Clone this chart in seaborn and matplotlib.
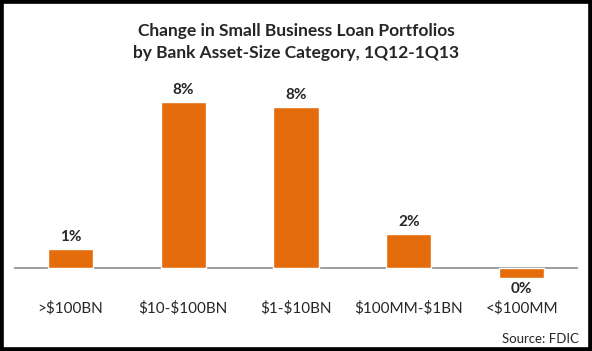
import matplotlib
matplotlib.use("Agg")
import matplotlib.pyplot as plt
from matplotlib.patches import Rectangle
import seaborn as sns
import pandas as pd

categories = ['>$100BN', '$10-$100BN', '$1-$10BN', '$100MM-$1BN', '<$100MM']
changes    = [0.93, 8.0, 7.76, 1.65, -0.45]
labels     = ['1%', '8%', '8%', '2%', '0%']
title      = 'Change in Small Business Loan Portfolios\nby Bank Asset-Size Category, 1Q12-1Q13'
source     = 'Source: FDIC'

sns.set_style("white")
plt.rcParams['font.family'] = ['Lato', 'DejaVu Sans']
plt.rcParams['text.parse_math'] = False

df = pd.DataFrame({'cat': categories, 'chg': changes})

fig = plt.figure(figsize=(5.92, 3.51), dpi=100)
ax = fig.add_axes([14/592, 61/351, 564/592, 220/351])
sns.barplot(ax=ax, data=df, x='cat', y='chg', color='#E46C0A', saturation=1, width=0.4)
ax.set_xlim(-0.5, 4.5)
ax.set_ylim(-1.04, 9.53)
for s in ax.spines.values(): s.set_visible(False)
ax.axhline(0, color='#8C8C8C', lw=1.2, zorder=0)
ax.set_yticks([])
ax.set_xticks([])
ax.set_xlabel(''); ax.set_ylabel('')

for i, (v, lab) in enumerate(zip(changes, labels)):
    if v >= 0:
        ax.annotate(lab, (i, v), xytext=(0, 3.5), textcoords='offset points',
                    ha='center', va='bottom', fontsize=11, fontweight='bold')
    else:
        ax.annotate(lab, (i, v), xytext=(0, -3), textcoords='offset points',
                    ha='center', va='top', fontsize=11, fontweight='bold')
    # category label row, ~40px below the baseline
    ax.annotate(categories[i], (i, 0), xytext=(0, -28.8), textcoords='offset points',
                ha='center', va='center', fontsize=11)

fig.text(0.5, 1 - 42/351, title, ha='center', va='center', fontsize=12.5, fontweight='bold',
         linespacing=1.5)
fig.text(579/592, 1 - 339/351, source, ha='right', va='center', fontsize=9.5)
fig.patches.append(Rectangle((0, 0), 1, 1, transform=fig.transFigure, fill=False,
                             lw=5.5, edgecolor='black'))
fig.savefig('out.png', dpi=100, facecolor='#FFFFFF')
